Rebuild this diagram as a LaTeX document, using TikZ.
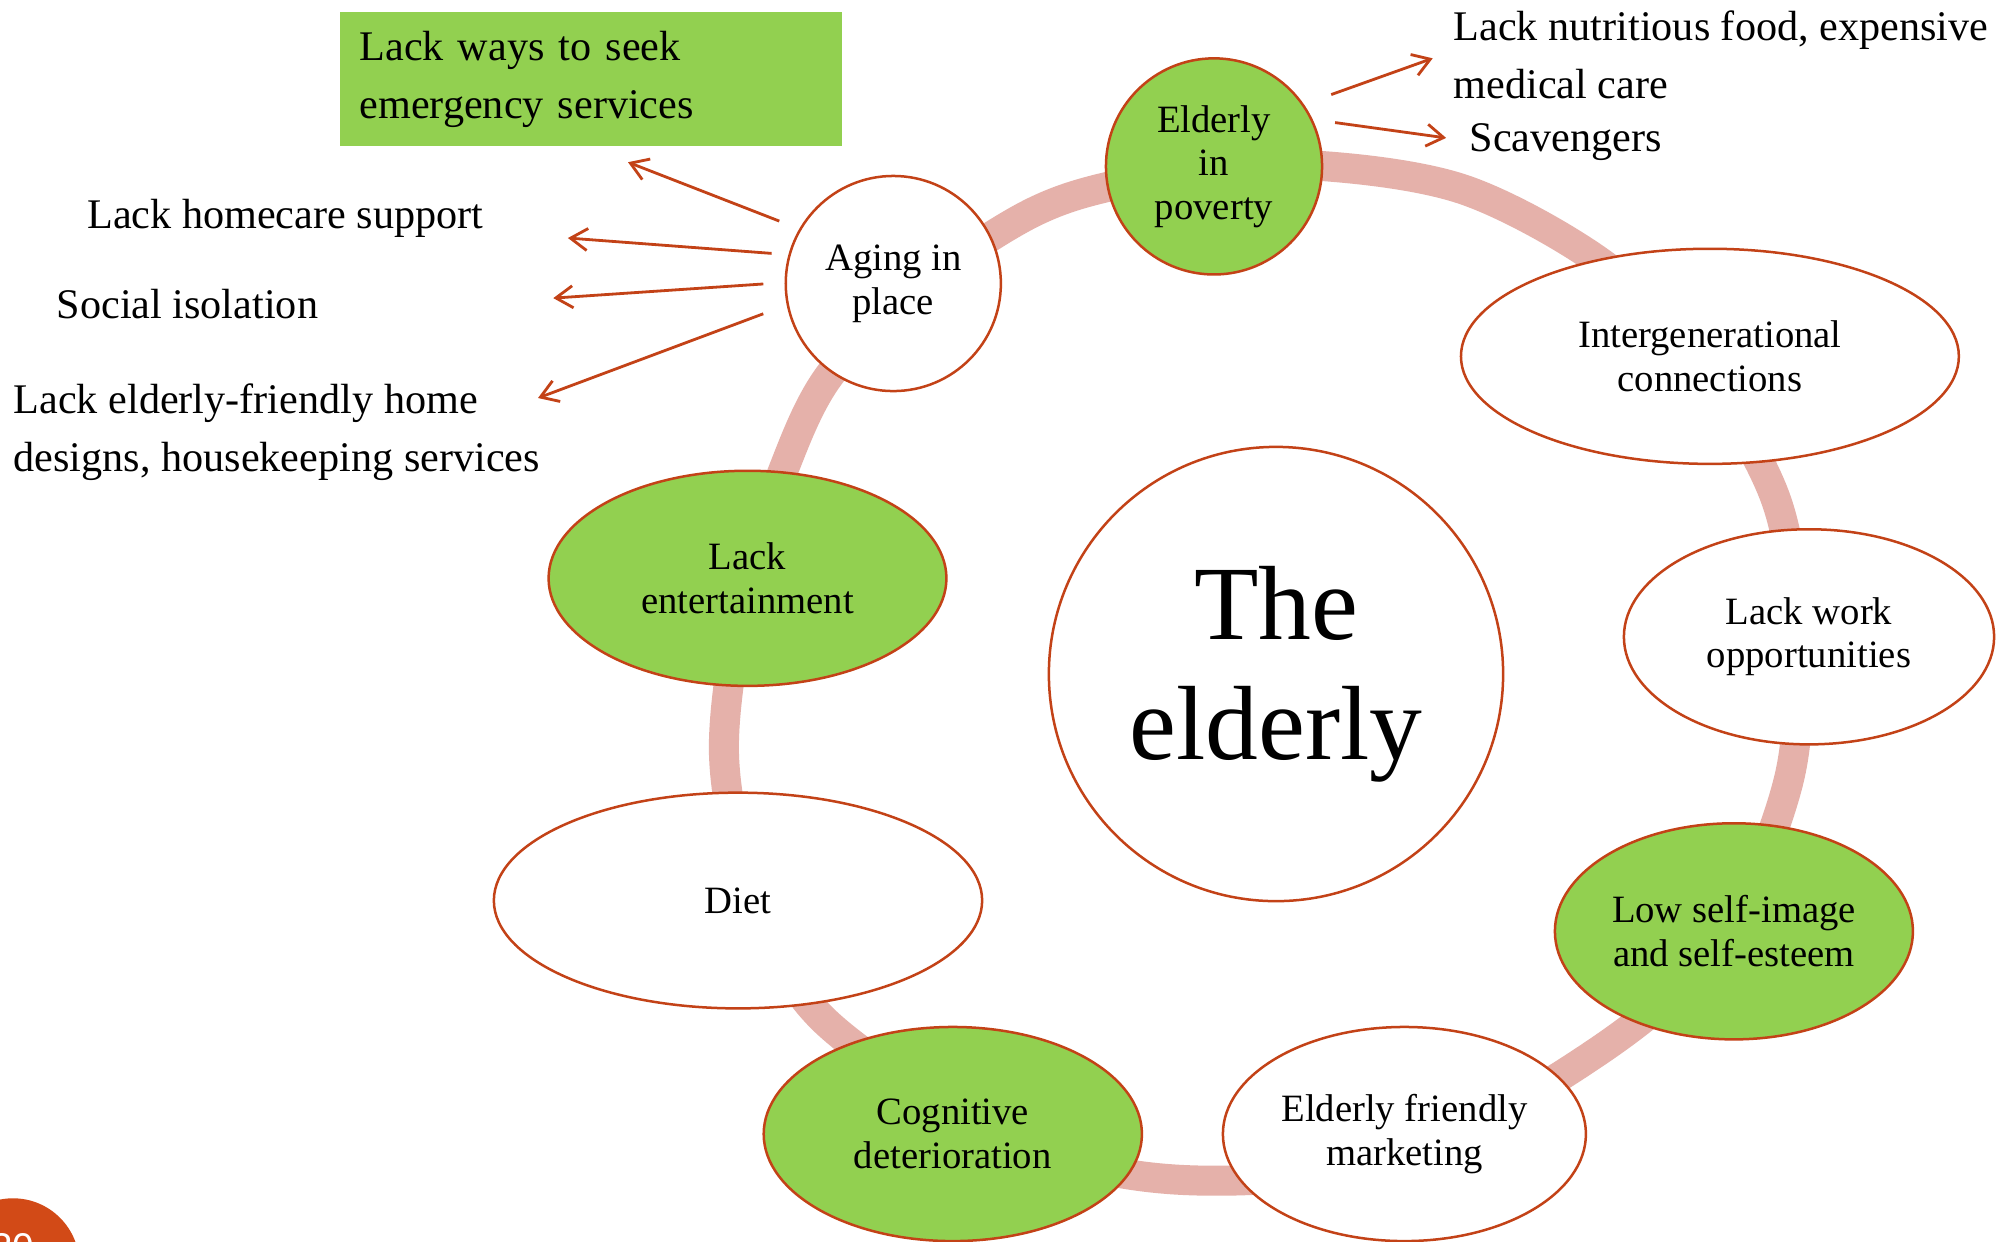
\documentclass[tikz,border=0pt]{standalone}
\usepackage{fontspec}
\setmainfont{Liberation Serif}
\newfontfamily\numfont{Liberation Sans}
\usetikzlibrary{shapes.geometric,arrows.meta,calc}

\definecolor{leaf}{RGB}{146,208,80}
\definecolor{rim}{RGB}{195,66,23}
\definecolor{ringpink}{RGB}{229,177,170}
\definecolor{tab}{RGB}{210,74,23}

\tikzset{
  ringline/.style={draw=ringpink, line width=0.30cm},
  bub/.style={ellipse, draw=rim, line width=0.025cm, fill=white, inner sep=0pt,
              align=center, font=\fontsize{11}{12.4}\selectfont},
  gbub/.style={bub, fill=leaf},
  arr/.style={draw=rim, line width=0.028cm,
              -{Straight Barb[length=0.17cm, width=0.22cm]}},
  lbl/.style={anchor=base west, inner sep=0pt, align=left,
              font=\fontsize{12}{16.5}\selectfont},
}

\begin{document}
\begin{tikzpicture}[x=0.01cm, y=-0.01cm]
  \useasboundingbox (0,0) rectangle (1997,1241);
  \clip (0,0) rectangle (1997,1241);
  \fill[white] (0,0) rectangle (1997,1241);

  % the pink ring that links the topics
  \draw[ringline] plot[smooth cycle, tension=0.55] coordinates {
    (1214,172) (1322,166) (1465,190) (1600,262) (1690,350)
    (1775,497) (1797,640) (1788,783) (1720,940) (1600,1050) (1400,1158)
    (1184,1180) (1010,1140) (826,1022) (755,900) (724,755) (745,590)
    (783,471) (829,376) (915,290) (1024,217) (1107,187)};

  % topics around the ring
  \node[gbub, circle, minimum size=2.16cm] (pov) at (1214,166.4) {Elderly\\in\\poverty};
  \node[bub, circle, minimum size=2.15cm] (aging) at (893.3,283.5) {Aging in\\place};
  \node[bub, minimum width=4.976cm, minimum height=2.15cm] (inter) at (1709.9,356.3) {Intergenerational\\connections};
  \node[bub, minimum width=3.70cm, minimum height=2.15cm] (work) at (1809,636.8) {Lack work\\opportunities};
  \node[gbub, minimum width=3.578cm, minimum height=2.16cm] (self) at (1733.9,931.3) {Low self-image\\and self-esteem};
  \node[bub, minimum width=3.628cm, minimum height=2.14cm] (market) at (1404.4,1134) {Elderly friendly\\marketing};
  \node[gbub, minimum width=3.78cm, minimum height=2.14cm] (cog) at (952.8,1134) {Cognitive\\deterioration};
  \node[bub, minimum width=4.88cm, minimum height=2.156cm] (diet) at (738,900.5) {Diet};
  \node[gbub, minimum width=3.976cm, minimum height=2.15cm] (ent) at (747.5,578.3) {Lack\\entertainment};

  % central subject
  \node[bub, circle, minimum size=4.54cm, font=\fontsize{30}{34}\selectfont] (core) at (1276,674) {The\\elderly};

  % consequences of aging in place (two-line labels are placed by their last baseline)
  \node[fill=leaf, anchor=north west, minimum width=5.018cm, minimum height=1.337cm,
        text width=4.618cm, inner xsep=0.2cm, inner ysep=0pt, align=left,
        font=\fontsize{12}{16.5}\selectfont] (sos) at (338.8,11.5) {Lack ways to seek\\emergency services};
  \node[lbl] (homecare) at (86.6,228) {Lack homecare support};
  \node[lbl] (isolation) at (56,318) {Social isolation};
  \node[lbl] (design) at (13,471.7) {Lack elderly-friendly home\\designs, housekeeping services};

  % consequences of poverty
  \node[lbl] (food) at (1453,98.3) {Lack nutritious food, expensive\\medical care};
  \node[lbl] (scav) at (1469,151.7) {Scavengers};

  % arrow tips
  \coordinate (tipA) at (628,162.2);
  \coordinate (tipB) at (567.9,238);
  \coordinate (tipC) at (553.3,298.1);
  \coordinate (tipD) at (538,398);
  \coordinate (tipE) at (1432.7,58.3);
  \coordinate (tipF) at (1446.1,137.9);

  \draw[arr] ($(aging.center)+(208.7:130)$) -- (tipA);
  \draw[arr] ($(aging.center)+(193.9:125.4)$) -- (tipB);
  \draw[arr] ($(aging.center)+(179.8:130)$) -- (tipC);
  \draw[arr] ($(aging.center)+(166.9:133.5)$) -- (tipD);
  \draw[arr] ($(pov.center)+(328.5:137.5)$) -- (tipE);
  \draw[arr] ($(pov.center)+(340.1:128.8)$) -- (tipF);

  % page tab
  \node[circle, fill=tab, minimum size=1.328cm, inner sep=0pt] (pg) at (13,1264.7) {};
  \node[anchor=base, inner sep=0pt, text=white, font=\numfont\fontsize{11}{11}\selectfont] (pgnum) at (13,1260) {30};
\end{tikzpicture}
\end{document}
